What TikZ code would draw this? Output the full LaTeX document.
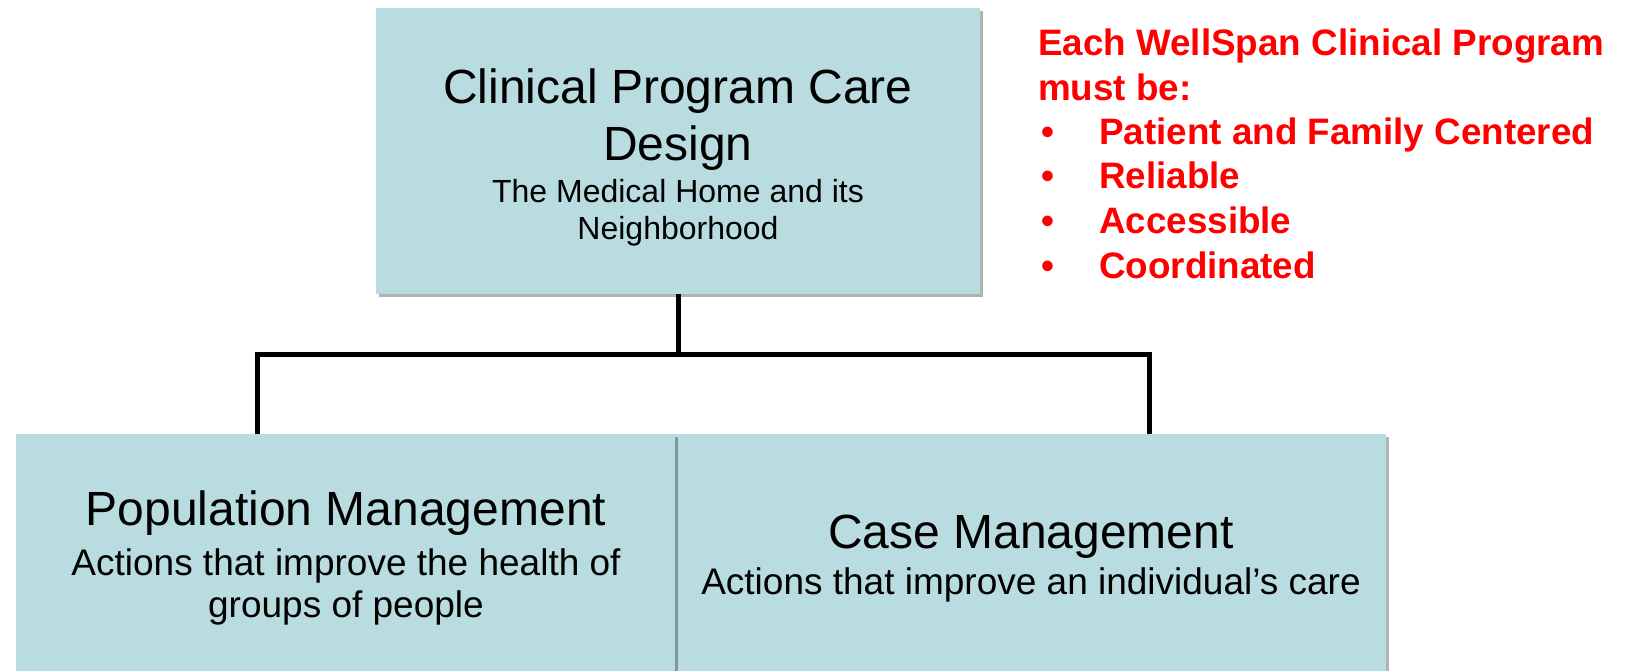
\documentclass[tikz,border=0pt]{standalone}
\usepackage{fontspec}
\setmainfont{Liberation Sans}
\usetikzlibrary{shadows}
\definecolor{boxfill}{RGB}{185,220,224}
\definecolor{noteRed}{RGB}{255,0,0}
\newcommand\bulitem{\hspace*{3pt}\makebox[58pt][l]{•}}
\begin{document}
\begin{tikzpicture}[x=1pt,y=-1pt,
  box/.style={fill=boxfill, draw=none, anchor=north west, inner sep=0pt,
    drop shadow={shadow xshift=2.5pt, shadow yshift=-3pt, fill=black, opacity=0.3}},
  head/.style={align=center, font=\fontsize{48}{57}\selectfont, inner sep=0pt, anchor=base},
  subtop/.style={align=center, font=\fontsize{32}{37}\selectfont, inner sep=0pt, anchor=base},
  sub/.style={align=center, font=\fontsize{37}{42}\selectfont, inner sep=0pt, anchor=base},
  link/.style={line width=5pt, line join=miter},
  note/.style={text=noteRed, align=left, font=\bfseries\fontsize{36.8}{44.5}\selectfont,
    anchor=base west, inner sep=0pt}]

\useasboundingbox (0,0) rectangle (1628,671);

% boxes (the case box first, so the population box shadow falls on it)
\node[box, minimum width=604pt, minimum height=286pt] (design) at (376,8) {};
\node[box, minimum width=711pt, minimum height=240pt] (casebox) at (675,434) {};
\node[box, minimum width=659pt, minimum height=240pt] (popbox) at (16,434) {};

% box texts (multi-line nodes sit on the baseline of their last line)
\node[head] (designhead) at (678,161) {Clinical Program Care\\Design};
\node[subtop] (designsub) at (678,240) {The Medical Home and its\\Neighborhood};
\node[head] (pophead) at (346,525) {Population Management};
\node[sub] (popsub) at (346,617) {Actions that improve the health of\\groups of people};
\node[head] (casehead) at (1031,548) {Case Management};
\node[sub] (casesub) at (1031,594) {Actions that improve an individual’s care};

% requirements list
\node[note] (req) at (1038,278) {Each WellSpan Clinical Program\\must be:\\
  \bulitem Patient and Family Centered\\\bulitem Reliable\\\bulitem Accessible\\\bulitem Coordinated};

% tree connector
\coordinate (busL) at (257,354);
\coordinate (busR) at (1149,354);
\draw[link] (design.south) -- (design.south |- busL);
\draw[link] (busL |- popbox.north) -- (busL) -- (busR) -- (busR |- casebox.north);
\end{tikzpicture}
\end{document}
